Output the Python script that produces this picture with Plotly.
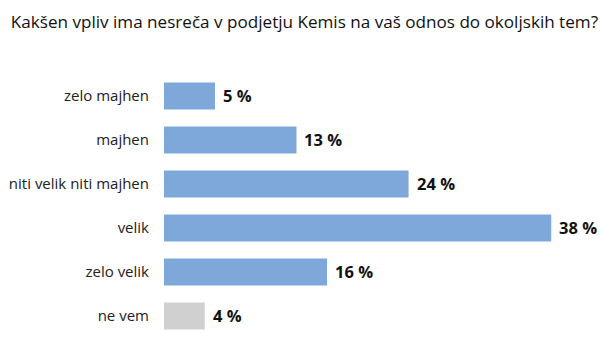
import plotly.graph_objects as go

categories = ["zelo majhen", "majhen", "niti velik niti majhen", "velik", "zelo velik", "ne vem"]
values = [5, 13, 24, 38, 16, 4]
value_labels = ["5 %", "13 %", "24 %", "38 %", "16 %", "4 %"]
colors = ["#7ea7da", "#7ea7da", "#7ea7da", "#7ea7da", "#7ea7da", "#d0d0d0"]

fig = go.Figure(go.Bar(
    y=categories, x=values, orientation="h",
    marker=dict(color=colors, line=dict(width=0)),
    hoverinfo="skip",
))
for cat, val, lab in zip(categories, values, value_labels):
    fig.add_annotation(x=val, y=cat, text=lab, showarrow=False,
                       xanchor="left", yanchor="middle", xshift=6, yshift=1,
                       font=dict(family="Open Sans", size=16.5, color="#111111", weight="bold"))
fig.update_layout(
    width=600, height=359,
    margin=dict(l=164, r=8, t=74, b=21, autoexpand=False),
    paper_bgcolor="white", plot_bgcolor="white",
    bargap=0.386,
    showlegend=False,
    title=dict(text="Kakšen vpliv ima nesreča v podjetju Kemis na vaš odnos do okoljskih tem?",
               x=0.018, xanchor="left", y=0.94, yanchor="middle",
               font=dict(family="Open Sans", size=17.1, color="#111111")),
)
fig.update_xaxes(range=[0, 42], visible=False, automargin=False)
fig.update_yaxes(autorange="reversed", showgrid=False, showline=False, ticks="",
                 automargin=False, ticklabelstandoff=14,
                 tickfont=dict(family="Open Sans", size=15, color="#222222"))
fig.write_html("out.html", post_script="document.body.style.margin='0';",
               config={"displayModeBar": False})
